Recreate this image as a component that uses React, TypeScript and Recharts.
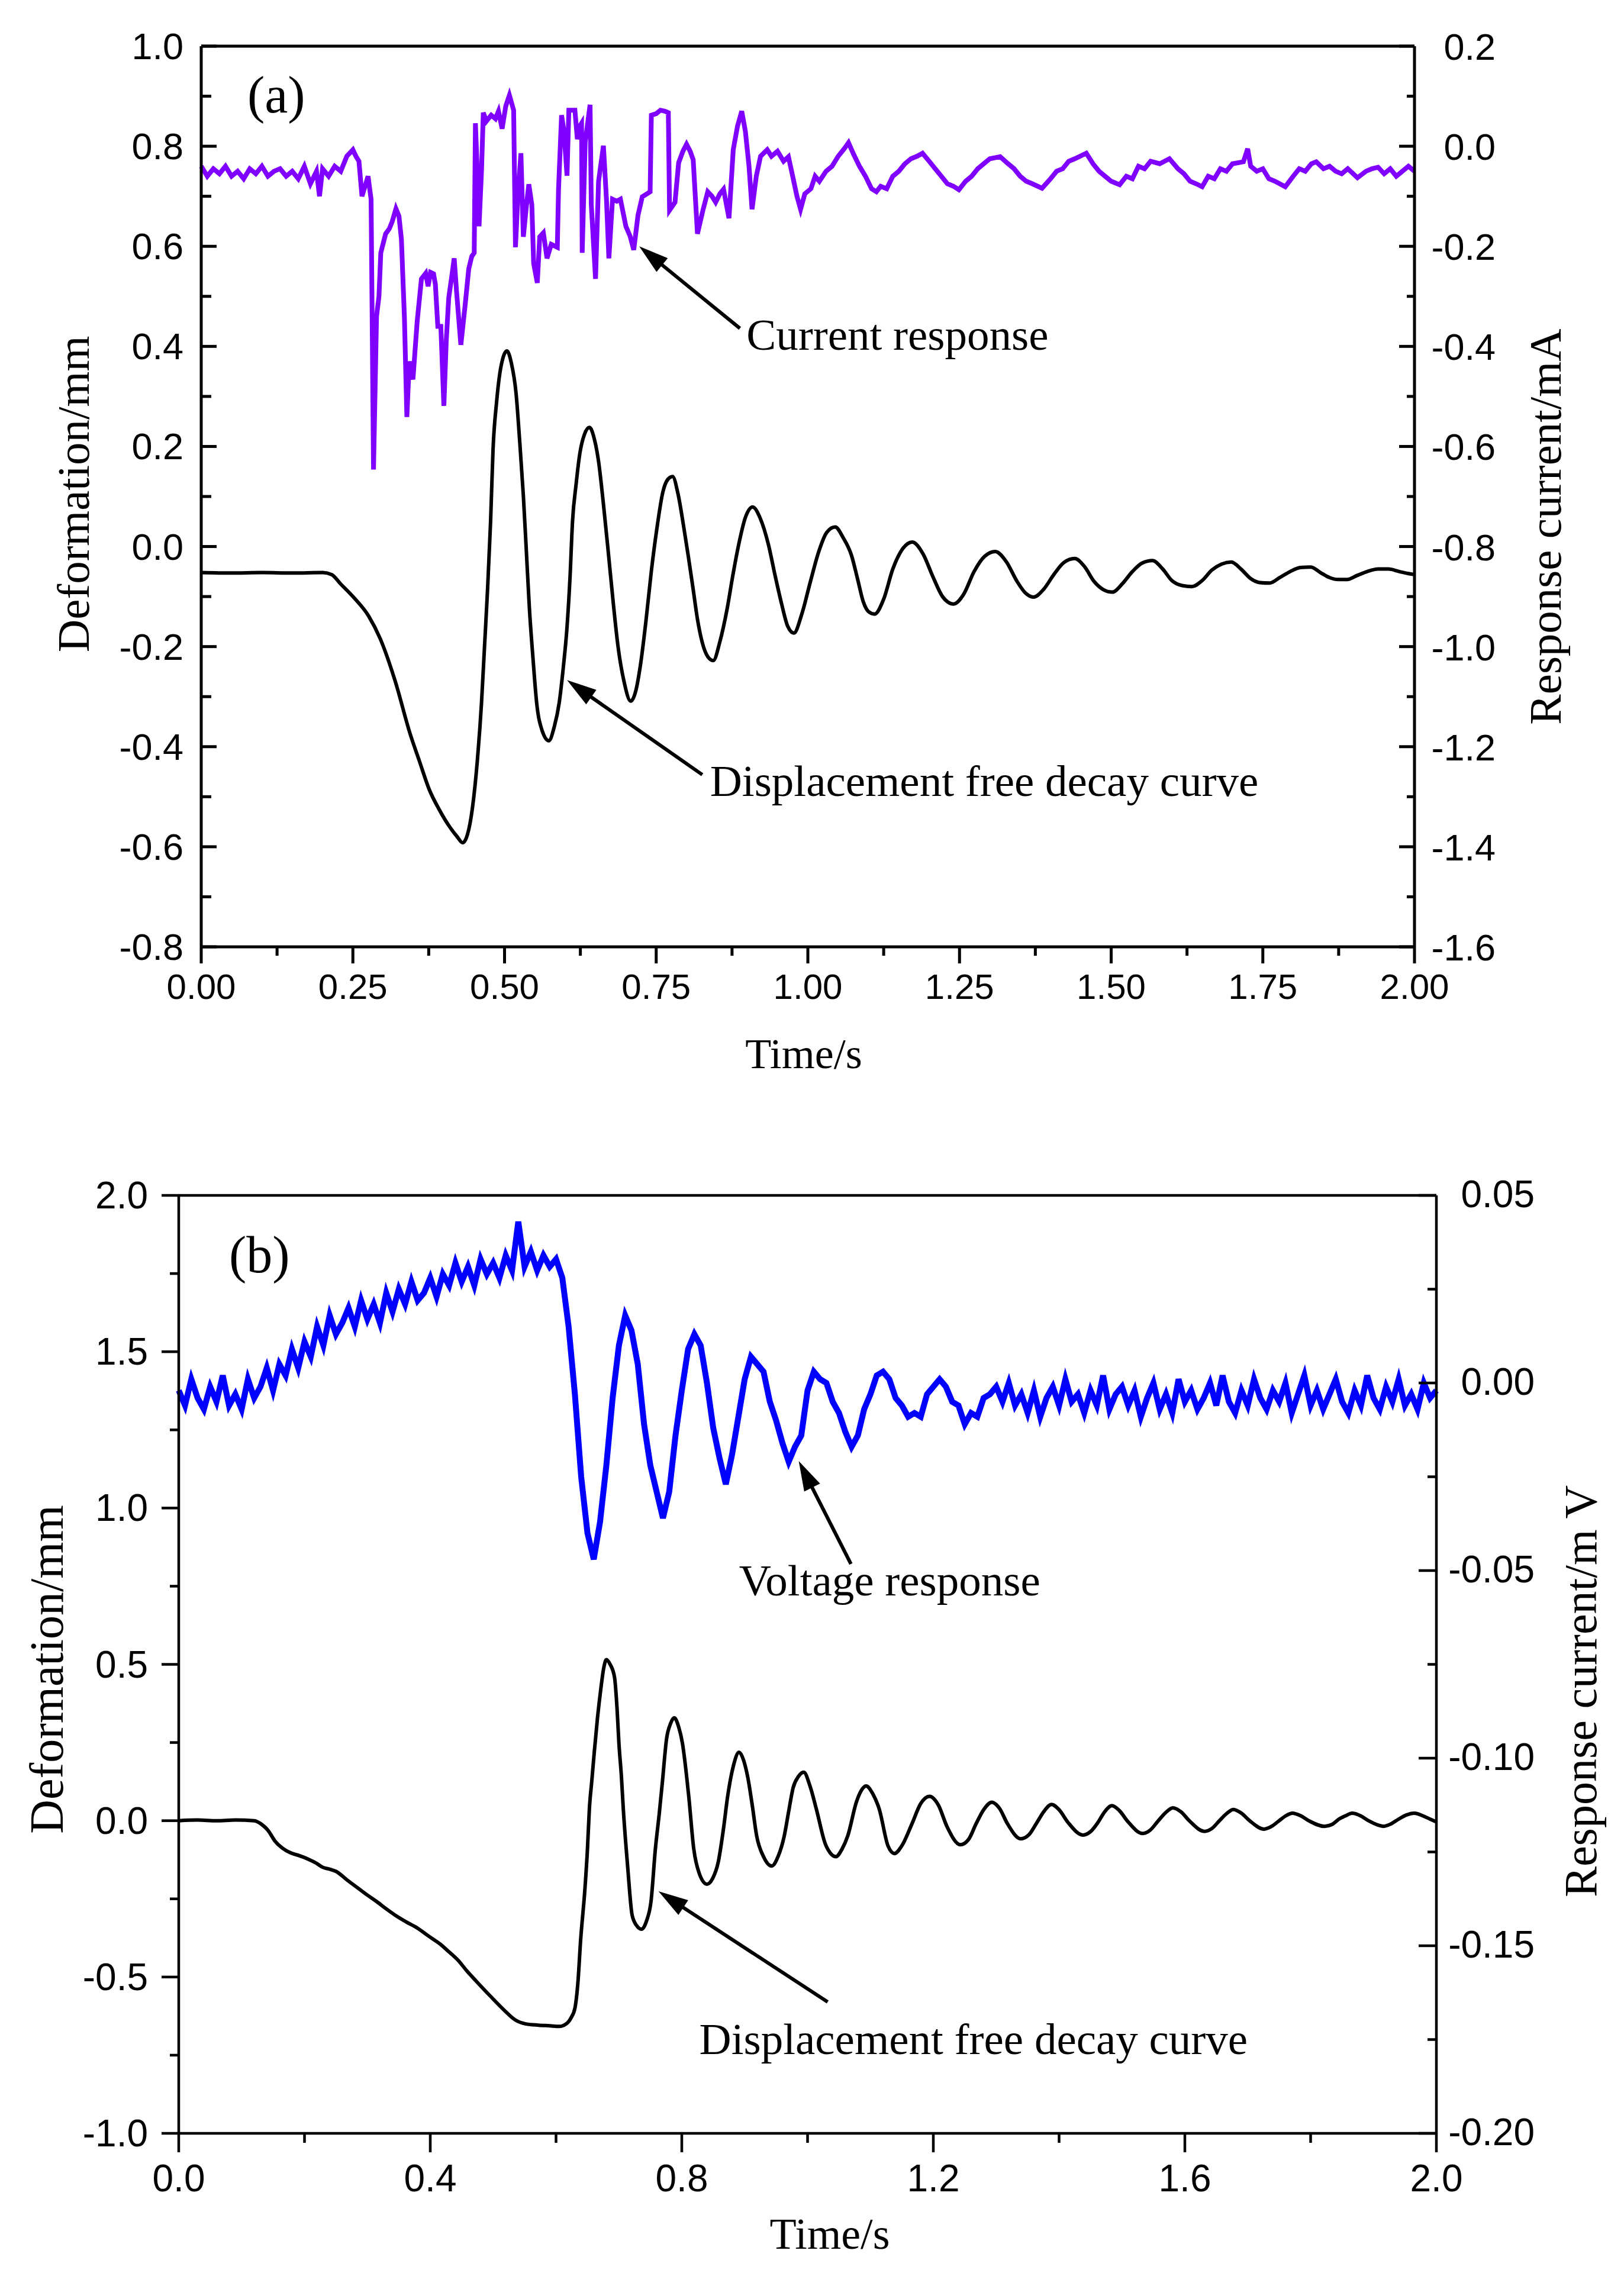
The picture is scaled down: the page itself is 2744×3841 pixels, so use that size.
import { Line, LineChart, ReferenceLine, XAxis, YAxis } from "recharts";

// ---------- panel (a) ----------
// displacement free decay curve, [time s, deformation mm]
const displacementA: [number, number][] = [
  [0.0, -0.052], [0.05, -0.053], [0.1, -0.052], [0.15, -0.053], [0.2, -0.052], [0.215, -0.056], [0.23, -0.075],
  [0.25, -0.1], [0.276, -0.139], [0.295, -0.184], [0.32, -0.27], [0.344, -0.373], [0.36, -0.43], [0.376, -0.486],
  [0.392, -0.525], [0.41, -0.561], [0.422, -0.58], [0.431, -0.592], [0.439, -0.575], [0.447, -0.523], [0.455, -0.43],
  [0.462, -0.313], [0.467, -0.2], [0.472, -0.086], [0.477, 0.05], [0.481, 0.193], [0.487, 0.29], [0.494, 0.359],
  [0.504, 0.391], [0.511, 0.368], [0.519, 0.306], [0.525, 0.21], [0.531, 0.102], [0.536, -0.01], [0.541, -0.124],
  [0.547, -0.225], [0.553, -0.313], [0.562, -0.368], [0.573, -0.388], [0.582, -0.36], [0.59, -0.313], [0.597, -0.24],
  [0.603, -0.161], [0.608, -0.06], [0.612, 0.049], [0.618, 0.125], [0.624, 0.185], [0.632, 0.225], [0.64, 0.238],
  [0.648, 0.215], [0.655, 0.17], [0.663, 0.085], [0.671, -0.011], [0.679, -0.11], [0.687, -0.199], [0.697, -0.27],
  [0.708, -0.309], [0.716, -0.29], [0.724, -0.237], [0.733, -0.15], [0.742, -0.049], [0.751, 0.035], [0.761, 0.109],
  [0.769, 0.134], [0.777, 0.14], [0.786, 0.105], [0.795, 0.042], [0.803, -0.02], [0.811, -0.086], [0.818, -0.145],
  [0.826, -0.192], [0.835, -0.22], [0.844, -0.228], [0.855, -0.19], [0.867, -0.124], [0.876, -0.06], [0.886, 0.004],
  [0.897, 0.058], [0.909, 0.079], [0.922, 0.055], [0.935, 0.004], [0.946, -0.058], [0.957, -0.116], [0.967, -0.16],
  [0.977, -0.173], [0.99, -0.135], [1.004, -0.071], [1.018, -0.01], [1.031, 0.028], [1.045, 0.039], [1.058, 0.018],
  [1.072, -0.018], [1.082, -0.065], [1.091, -0.109], [1.1, -0.13], [1.11, -0.135], [1.125, -0.105], [1.14, -0.045],
  [1.156, -0.005], [1.172, 0.009], [1.19, -0.015], [1.206, -0.06], [1.222, -0.1], [1.24, -0.115], [1.257, -0.095],
  [1.274, -0.05], [1.291, -0.02], [1.309, -0.01], [1.327, -0.03], [1.345, -0.07], [1.358, -0.092], [1.372, -0.101],
  [1.389, -0.085], [1.406, -0.055], [1.422, -0.032], [1.44, -0.024], [1.456, -0.04], [1.472, -0.07], [1.487, -0.086],
  [1.502, -0.091], [1.518, -0.075], [1.535, -0.05], [1.551, -0.033], [1.568, -0.028], [1.585, -0.045], [1.6, -0.068],
  [1.617, -0.078], [1.633, -0.08], [1.65, -0.068], [1.666, -0.047], [1.682, -0.035], [1.698, -0.031], [1.714, -0.045],
  [1.73, -0.064], [1.745, -0.072], [1.761, -0.073], [1.778, -0.062], [1.795, -0.05], [1.812, -0.042], [1.829, -0.041],
  [1.845, -0.052], [1.86, -0.062], [1.875, -0.066], [1.889, -0.066], [1.905, -0.058], [1.922, -0.05], [1.94, -0.045],
  [1.957, -0.045], [1.975, -0.05], [1.99, -0.054], [2.0, -0.056],
];

// current response, [time s, current mA]
const currentA: [number, number][] = [
  [0.0, -0.04], [0.01, -0.06], [0.02, -0.045], [0.03, -0.055], [0.04, -0.04], [0.05, -0.06], [0.06, -0.05],
  [0.07, -0.065], [0.08, -0.045], [0.09, -0.055], [0.1, -0.04], [0.11, -0.06], [0.12, -0.05], [0.13, -0.045],
  [0.14, -0.06], [0.15, -0.05], [0.16, -0.065], [0.17, -0.04], [0.18, -0.075], [0.19, -0.05], [0.195, -0.1],
  [0.2, -0.045], [0.21, -0.06], [0.22, -0.04], [0.23, -0.05], [0.24, -0.02], [0.25, -0.007], [0.255, -0.02],
  [0.26, -0.03], [0.265, -0.1], [0.275, -0.06], [0.28, -0.106], [0.284, -0.646], [0.289, -0.34], [0.293, -0.3],
  [0.296, -0.213], [0.304, -0.175], [0.31, -0.165], [0.315, -0.15], [0.321, -0.125], [0.326, -0.14], [0.33, -0.186],
  [0.335, -0.344], [0.339, -0.541], [0.343, -0.43], [0.349, -0.466], [0.356, -0.35], [0.363, -0.265], [0.37, -0.254],
  [0.374, -0.28], [0.378, -0.252], [0.383, -0.255], [0.386, -0.276], [0.39, -0.36], [0.395, -0.36], [0.4, -0.519],
  [0.404, -0.387], [0.408, -0.303], [0.413, -0.26], [0.417, -0.224], [0.421, -0.292], [0.428, -0.397], [0.435, -0.318],
  [0.441, -0.245], [0.446, -0.22], [0.45, -0.213], [0.452, 0.046], [0.455, -0.05], [0.458, -0.16], [0.462, -0.05],
  [0.465, 0.067], [0.47, 0.05], [0.478, 0.062], [0.485, 0.055], [0.49, 0.07], [0.496, 0.035], [0.502, 0.08],
  [0.508, 0.102], [0.515, 0.072], [0.518, -0.202], [0.522, -0.1], [0.527, -0.014], [0.531, -0.181], [0.536, -0.12],
  [0.54, -0.076], [0.545, -0.117], [0.548, -0.234], [0.554, -0.273], [0.558, -0.181], [0.564, -0.173], [0.57, -0.224],
  [0.577, -0.196], [0.587, -0.202], [0.589, -0.086], [0.594, 0.062], [0.598, 0.03], [0.603, -0.059], [0.606, 0.072],
  [0.616, 0.072], [0.62, 0.014], [0.624, 0.04], [0.627, 0.046], [0.628, -0.213], [0.633, 0.009], [0.641, 0.083],
  [0.643, -0.117], [0.65, -0.265], [0.655, -0.07], [0.663, 0.001], [0.668, -0.106], [0.672, -0.224], [0.678, -0.106],
  [0.685, -0.11], [0.691, -0.106], [0.7, -0.16], [0.707, -0.18], [0.713, -0.207], [0.72, -0.138], [0.727, -0.101],
  [0.735, -0.095], [0.74, -0.091], [0.742, 0.062], [0.75, 0.065], [0.757, 0.072], [0.764, 0.07], [0.77, 0.067],
  [0.772, -0.128], [0.781, -0.112], [0.787, -0.033], [0.794, -0.01], [0.8, 0.004], [0.806, -0.01], [0.811, -0.027],
  [0.818, -0.175], [0.827, -0.128], [0.835, -0.091], [0.842, -0.1], [0.848, -0.112], [0.855, -0.095], [0.861, -0.086],
  [0.87, -0.144], [0.877, -0.007], [0.884, 0.04], [0.891, 0.07], [0.897, 0.03], [0.903, -0.04], [0.908, -0.126],
  [0.915, -0.06], [0.922, -0.02], [0.933, -0.007], [0.94, -0.02], [0.95, -0.01], [0.96, -0.03], [0.968, -0.021],
  [0.975, -0.06], [0.982, -0.1], [0.988, -0.126], [0.995, -0.095], [1.005, -0.085], [1.012, -0.06], [1.019, -0.07],
  [1.03, -0.05], [1.04, -0.04], [1.05, -0.02], [1.06, -0.005], [1.067, 0.007], [1.075, -0.015], [1.085, -0.04],
  [1.095, -0.06], [1.105, -0.085], [1.113, -0.091], [1.12, -0.08], [1.13, -0.085], [1.14, -0.06], [1.15, -0.05],
  [1.16, -0.035], [1.17, -0.025], [1.18, -0.02], [1.189, -0.014], [1.2, -0.03], [1.21, -0.045], [1.22, -0.06],
  [1.23, -0.075], [1.24, -0.08], [1.249, -0.087], [1.26, -0.07], [1.27, -0.06], [1.28, -0.045], [1.29, -0.035],
  [1.3, -0.025], [1.317, -0.021], [1.33, -0.035], [1.34, -0.045], [1.35, -0.06], [1.36, -0.07], [1.37, -0.075],
  [1.386, -0.084], [1.4, -0.065], [1.41, -0.05], [1.42, -0.045], [1.43, -0.03], [1.44, -0.025], [1.459, -0.014],
  [1.47, -0.035], [1.48, -0.05], [1.49, -0.06], [1.5, -0.07], [1.514, -0.077], [1.525, -0.06], [1.535, -0.065],
  [1.545, -0.04], [1.555, -0.045], [1.565, -0.03], [1.58, -0.035], [1.596, -0.025], [1.61, -0.045], [1.62, -0.055],
  [1.63, -0.07], [1.64, -0.075], [1.65, -0.081], [1.66, -0.06], [1.67, -0.065], [1.68, -0.045], [1.69, -0.05],
  [1.7, -0.035], [1.718, -0.031], [1.725, -0.005], [1.73, -0.04], [1.74, -0.05], [1.75, -0.045], [1.76, -0.065],
  [1.77, -0.07], [1.787, -0.081], [1.8, -0.06], [1.81, -0.045], [1.82, -0.05], [1.83, -0.035], [1.838, -0.031],
  [1.85, -0.045], [1.86, -0.04], [1.87, -0.05], [1.88, -0.055], [1.89, -0.045], [1.906, -0.063], [1.92, -0.05],
  [1.93, -0.045], [1.94, -0.042], [1.95, -0.055], [1.96, -0.045], [1.97, -0.06], [1.98, -0.05], [1.99, -0.04],
  [2.0, -0.05],
];

const deformTicksA = [-0.8, -0.6, -0.4, -0.2, 0, 0.2, 0.4, 0.6, 0.8, 1.0];
const deformMinorA = [-0.7, -0.5, -0.3, -0.1, 0.1, 0.3, 0.5, 0.7, 0.9];
const currentTicksA = [-1.6, -1.4, -1.2, -1.0, -0.8, -0.6, -0.4, -0.2, 0, 0.2];
const currentMinorA = [-1.5, -1.3, -1.1, -0.9, -0.7, -0.5, -0.3, -0.1, 0.1];
const timeTicksA = [0, 0.25, 0.5, 0.75, 1.0, 1.25, 1.5, 1.75, 2.0];
const timeMinorA = [0.125, 0.375, 0.625, 0.875, 1.125, 1.375, 1.625, 1.875];

// ---------- panel (b) ----------
// displacement free decay curve, [time s, deformation mm]
const displacementB: [number, number][] = [
  [0.0, 0.0], [0.03, 0.002], [0.06, 0.0], [0.09, 0.002], [0.12, 0.0], [0.132, -0.012], [0.142, -0.031],
  [0.153, -0.065], [0.165, -0.088], [0.178, -0.103], [0.192, -0.112], [0.207, -0.124], [0.218, -0.135],
  [0.229, -0.149], [0.24, -0.155], [0.25, -0.162], [0.268, -0.19], [0.286, -0.217], [0.3, -0.238], [0.315, -0.259],
  [0.33, -0.282], [0.344, -0.302], [0.362, -0.324], [0.38, -0.344], [0.398, -0.37], [0.416, -0.395], [0.43, -0.42],
  [0.444, -0.446], [0.458, -0.48], [0.473, -0.513], [0.495, -0.56], [0.517, -0.605], [0.535, -0.637], [0.552, -0.65],
  [0.572, -0.654], [0.59, -0.656], [0.605, -0.658], [0.616, -0.65], [0.624, -0.63], [0.63, -0.6], [0.635, -0.512],
  [0.639, -0.385], [0.646, -0.217], [0.65, -0.09], [0.653, 0.037], [0.657, 0.13], [0.661, 0.223], [0.666, 0.33],
  [0.671, 0.418], [0.676, 0.49], [0.68, 0.515], [0.686, 0.5], [0.693, 0.459], [0.697, 0.36], [0.7, 0.248],
  [0.704, 0.14], [0.707, 0.037], [0.714, -0.149], [0.721, -0.302], [0.728, -0.335], [0.736, -0.347], [0.744, -0.32],
  [0.751, -0.259], [0.758, -0.09], [0.764, 0.02], [0.769, 0.121], [0.776, 0.265], [0.782, 0.31], [0.788, 0.329],
  [0.795, 0.3], [0.801, 0.248], [0.811, 0.079], [0.819, -0.09], [0.828, -0.17], [0.84, -0.203], [0.849, -0.185],
  [0.858, -0.132], [0.866, -0.03], [0.873, 0.079], [0.882, 0.175], [0.891, 0.219], [0.898, 0.195], [0.905, 0.138],
  [0.912, 0.05], [0.919, -0.048], [0.93, -0.115], [0.943, -0.145], [0.953, -0.115], [0.963, -0.048], [0.97, 0.03],
  [0.977, 0.105], [0.985, 0.14], [0.994, 0.155], [1.004, 0.11], [1.014, 0.037], [1.028, -0.073], [1.036, -0.103],
  [1.045, -0.115], [1.055, -0.09], [1.064, -0.048], [1.078, 0.062], [1.085, 0.095], [1.093, 0.111], [1.104, 0.085],
  [1.114, 0.037], [1.128, -0.081], [1.138, -0.105], [1.15, -0.08], [1.166, -0.01], [1.18, 0.055], [1.194, 0.078],
  [1.208, 0.05], [1.222, -0.02], [1.243, -0.077], [1.256, -0.06], [1.268, -0.01], [1.28, 0.035], [1.293, 0.059],
  [1.305, 0.04], [1.318, -0.01], [1.339, -0.058], [1.352, -0.045], [1.365, -0.005], [1.376, 0.03], [1.388, 0.052],
  [1.4, 0.035], [1.414, -0.005], [1.438, -0.046], [1.45, -0.035], [1.462, -0.005], [1.473, 0.03], [1.484, 0.048],
  [1.496, 0.032], [1.509, -0.002], [1.533, -0.041], [1.545, -0.03], [1.557, -0.002], [1.569, 0.025], [1.581, 0.041],
  [1.594, 0.028], [1.607, 0.0], [1.631, -0.034], [1.643, -0.025], [1.655, 0.0], [1.666, 0.022], [1.677, 0.036],
  [1.69, 0.024], [1.703, 0.0], [1.726, -0.027], [1.738, -0.018], [1.75, 0.0], [1.76, 0.015], [1.771, 0.024],
  [1.784, 0.016], [1.797, 0.0], [1.822, -0.018], [1.834, -0.012], [1.845, 0.005], [1.856, 0.016], [1.866, 0.024],
  [1.879, 0.016], [1.892, 0.0], [1.916, -0.018], [1.928, -0.01], [1.94, 0.005], [1.952, 0.018], [1.965, 0.024],
  [1.978, 0.016], [1.99, 0.005], [2.0, -0.004],
];

// voltage response in mV, one reading every 0.01 s from 0.00 s to 2.00 s
const VOLTAGE_STEP_MS = 10;
const voltageB: number[] = [
  -0.002, -0.006, 0.001, -0.004, -0.007, -0.001, -0.005, 0.002, -0.006, -0.003,
  -0.007, 0.001, -0.004, -0.001, 0.004, -0.002, 0.005, 0.002, 0.009, 0.004,
  0.011, 0.007, 0.015, 0.01, 0.018, 0.013, 0.016, 0.02, 0.015, 0.022,
  0.017, 0.021, 0.016, 0.024, 0.019, 0.025, 0.021, 0.027, 0.022, 0.024,
  0.028, 0.023, 0.029, 0.026, 0.032, 0.027, 0.031, 0.026, 0.033, 0.029,
  0.032, 0.028, 0.034, 0.03, 0.043, 0.031, 0.035, 0.03, 0.034, 0.031,
  0.033, 0.028, 0.015, -0.003, -0.025, -0.04, -0.047, -0.037, -0.022, -0.004,
  0.01, 0.018, 0.014, 0.005, -0.011, -0.022, -0.029, -0.036, -0.029, -0.014,
  -0.002, 0.009, 0.013, 0.01, 0.0, -0.012, -0.02, -0.027, -0.019, -0.009,
  0.001, 0.007, 0.005, 0.003, -0.005, -0.01, -0.016, -0.021, -0.017, -0.014,
  -0.002, 0.003, 0.001, 0.0, -0.005, -0.008, -0.013, -0.017, -0.014, -0.007,
  -0.003, 0.002, 0.003, 0.001, -0.004, -0.006, -0.009, -0.008, -0.009, -0.003,
  -0.001, 0.001, -0.001, -0.005, -0.006, -0.011, -0.008, -0.009, -0.004, -0.003,
  -0.001, -0.005, 0.0, -0.006, -0.003, -0.008, -0.002, -0.009, -0.004, -0.001,
  -0.006, 0.001, -0.005, -0.003, -0.008, -0.002, -0.006, 0.002, -0.007, -0.003,
  -0.001, -0.006, -0.002, -0.009, -0.004, 0.0, -0.007, -0.003, -0.008, 0.001,
  -0.005, -0.002, -0.007, -0.004, 0.0, -0.006, 0.002, -0.005, -0.008, -0.002,
  -0.006, 0.001, -0.004, -0.007, -0.002, -0.005, 0.0, -0.008, -0.003, 0.002,
  -0.006, -0.002, -0.007, -0.003, 0.001, -0.005, -0.008, -0.002, -0.006, 0.002,
  -0.004, -0.007, -0.001, -0.005, 0.001, -0.006, -0.003, -0.007, 0.0, -0.004,
  -0.002,
];

const deformTicksB = [-1.0, -0.5, 0, 0.5, 1.0, 1.5, 2.0];
const deformMinorB = [-0.75, -0.25, 0.25, 0.75, 1.25, 1.75];
const voltageTicksB = [-0.2, -0.15, -0.1, -0.05, 0, 0.05];
const voltageMinorB = [-0.175, -0.125, -0.075, -0.025, 0.025];
const timeTicksB = [0, 0.4, 0.8, 1.2, 1.6, 2.0];
const timeMinorB = [0.2, 0.6, 1.0, 1.4, 1.8];

const SANS = '"Liberation Sans", Arial, sans-serif';
const SERIF = '"Liberation Serif", "Times New Roman", serif';

const toRows = (pts: [number, number][]) => pts.map(([t, v]) => ({ t, v }));
const merge = (a: number[], b: number[]) => [...a, ...b].sort((p, q) => p - q);

type TickStyle = {
  side: "left" | "right" | "bottom";
  majors: number[];
  digits: number;
  inward: boolean;
  major: number;
  minor: number;
  width: number;
  fontSize: number;
  dx: number;
  dy: number;
};

function makeTick(s: TickStyle) {
  return (props: any) => {
    const { x, y, payload } = props;
    const value: number = payload.value;
    const isMajor = s.majors.some((m) => Math.abs(m - value) < 1e-9);
    const len = isMajor ? s.major : s.minor;
    let line;
    if (s.side === "bottom") {
      const d = s.inward ? -len : len;
      line = <line x1={x} y1={y} x2={x} y2={y + d} stroke="#000" strokeWidth={s.width} />;
    } else {
      const dir = s.side === "left" ? 1 : -1;
      const d = (s.inward ? 1 : -1) * dir * len;
      line = <line x1={x} y1={y} x2={x + d} y2={y} stroke="#000" strokeWidth={s.width} />;
    }
    const label = value.toFixed(s.digits);
    return (
      <g>
        {line}
        {isMajor && (
          <text
            x={x + s.dx}
            y={y + s.dy}
            textAnchor={s.side === "bottom" ? "middle" : "end"}
            fontFamily={SANS}
            fontSize={s.fontSize}
            fill="#000"
          >
            {label}
          </text>
        )}
      </g>
    );
  };
}

function arrowShape(text: string, dx: number, dy: number) {
  return (p: any) => {
    const { x1, y1, x2, y2 } = p;
    const ang = Math.atan2(y2 - y1, x2 - x1);
    const c = Math.cos(ang);
    const s = Math.sin(ang);
    const L = 50;
    const W = 15;
    const bx = x2 - L * c;
    const by = y2 - L * s;
    const pts = `${x2},${y2} ${bx - W * s},${by + W * c} ${bx + W * s},${by - W * c}`;
    return (
      <g>
        <line x1={x1} y1={y1} x2={bx + 4 * c} y2={by + 4 * s} stroke="#000" strokeWidth={6} />
        <polygon points={pts} fill="#000" />
        <text x={x1 + dx} y={y1 + dy} fontFamily={SERIF} fontSize={75} fill="#000">
          {text}
        </text>
      </g>
    );
  };
}

const axisLineA = { stroke: "#000", strokeWidth: 5 };
const axisLineB = { stroke: "#000", strokeWidth: 4.5 };

function PanelA() {
  return (
    <LineChart width={2744} height={1900} margin={{ top: 78, right: 0, bottom: 0, left: 0 }}>
      <XAxis
        dataKey="t"
        type="number"
        domain={[0, 2]}
        ticks={merge(timeTicksA, timeMinorA)}
        interval={0}
        tickSize={0}
        tickMargin={0}
        tickLine={false}
        axisLine={axisLineA}
        height={300}
        tick={makeTick({ side: "bottom", majors: timeTicksA, digits: 2, inward: false, major: 28, minor: 15, width: 5, fontSize: 60, dx: 0, dy: 88 })}
      />
      <YAxis
        yAxisId="left"
        type="number"
        domain={[-0.8, 1.0]}
        ticks={merge(deformTicksA, deformMinorA)}
        interval={0}
        tickSize={0}
        tickMargin={0}
        tickLine={false}
        axisLine={axisLineA}
        width={340}
        tick={makeTick({ side: "left", majors: deformTicksA, digits: 1, inward: true, major: 26, minor: 17, width: 5, fontSize: 63, dx: -30, dy: 22 })}
      />
      <YAxis
        yAxisId="right"
        orientation="right"
        type="number"
        domain={[-1.6, 0.2]}
        ticks={merge(currentTicksA, currentMinorA)}
        interval={0}
        tickSize={0}
        tickMargin={0}
        tickLine={false}
        axisLine={axisLineA}
        width={354}
        tick={makeTick({ side: "right", majors: currentTicksA, digits: 1, inward: true, major: 26, minor: 13, width: 5, fontSize: 63, dx: 137, dy: 23 })}
      />
      <ReferenceLine yAxisId="left" y={1.0} stroke="#000" strokeWidth={5} ifOverflow="visible" />
      <Line
        yAxisId="right"
        data={toRows(currentA)}
        dataKey="v"
        type="linear"
        stroke="#7f00ff"
        strokeWidth={8}
        strokeLinejoin="miter"
        dot={false}
        isAnimationActive={false}
      />
      <Line
        yAxisId="left"
        data={toRows(displacementA)}
        dataKey="v"
        type="monotone"
        stroke="#000"
        strokeWidth={6}
        dot={false}
        isAnimationActive={false}
      />
      <ReferenceLine
        yAxisId="left"
        segment={[{ x: 0.888, y: 0.436 }, { x: 0.722, y: 0.6 }]}
        ifOverflow="visible"
        shape={arrowShape("Current response", 11, 36)}
      />
      <ReferenceLine
        yAxisId="left"
        segment={[{ x: 0.826, y: -0.456 }, { x: 0.603, y: -0.267 }]}
        ifOverflow="visible"
        shape={arrowShape("Displacement free decay curve", 13, 36)}
      />
    </LineChart>
  );
}

function PanelB() {
  const voltageRows = voltageB.map((v, i) => ({ t: (i * VOLTAGE_STEP_MS) / 1000, v }));
  return (
    <LineChart width={2744} height={1941} margin={{ top: 120, right: 0, bottom: 0, left: 0 }}>
      <XAxis
        dataKey="t"
        type="number"
        domain={[0, 2]}
        ticks={merge(timeTicksB, timeMinorB)}
        interval={0}
        tickSize={0}
        tickMargin={0}
        tickLine={false}
        axisLine={axisLineB}
        height={236}
        tick={makeTick({ side: "bottom", majors: timeTicksB, digits: 1, inward: false, major: 32, minor: 16, width: 4.5, fontSize: 64, dx: 0, dy: 98 })}
      />
      <YAxis
        yAxisId="left"
        type="number"
        domain={[-1.0, 2.0]}
        ticks={merge(deformTicksB, deformMinorB)}
        interval={0}
        tickSize={0}
        tickMargin={0}
        tickLine={false}
        axisLine={axisLineB}
        width={302}
        tick={makeTick({ side: "left", majors: deformTicksB, digits: 1, inward: false, major: 29, minor: 15, width: 4.5, fontSize: 64, dx: -52, dy: 22 })}
      />
      <YAxis
        yAxisId="right"
        orientation="right"
        type="number"
        domain={[-0.2, 0.05]}
        ticks={merge(voltageTicksB, voltageMinorB)}
        interval={0}
        tickSize={0}
        tickMargin={0}
        tickLine={false}
        axisLine={axisLineB}
        width={317}
        tick={makeTick({ side: "right", majors: voltageTicksB, digits: 2, inward: true, major: 30, minor: 15, width: 4.5, fontSize: 64, dx: 166, dy: 20 })}
      />
      <ReferenceLine yAxisId="left" y={2.0} stroke="#000" strokeWidth={4.5} ifOverflow="visible" />
      <Line
        yAxisId="right"
        data={voltageRows}
        dataKey="v"
        type="linear"
        stroke="#0000ff"
        strokeWidth={10}
        strokeLinejoin="miter"
        dot={false}
        isAnimationActive={false}
      />
      <Line
        yAxisId="left"
        data={toRows(displacementB)}
        dataKey="v"
        type="monotone"
        stroke="#000"
        strokeWidth={6}
        dot={false}
        isAnimationActive={false}
      />
      <ReferenceLine
        yAxisId="left"
        segment={[{ x: 1.069, y: 0.821 }, { x: 0.986, y: 1.15 }]}
        ifOverflow="visible"
        shape={arrowShape("Voltage response", -189, 53)}
      />
      <ReferenceLine
        yAxisId="left"
        segment={[{ x: 1.032, y: -0.58 }, { x: 0.763, y: -0.226 }]}
        ifOverflow="visible"
        shape={arrowShape("Displacement free decay curve", -217, 88)}
      />
    </LineChart>
  );
}

function Titles() {
  const serif = { fontFamily: SERIF, fill: "#000" };
  return (
    <svg
      width={2744}
      height={3841}
      style={{ position: "absolute", left: 0, top: 0, pointerEvents: "none" }}
    >
      <text x={418} y={190} fontSize={88} {...serif}>(a)</text>
      <text x={387} y={2150} fontSize={88} {...serif}>(b)</text>
      <text x={1358} y={1805} fontSize={72} textAnchor="middle" {...serif}>Time/s</text>
      <text x={1402} y={3800} fontSize={74} textAnchor="middle" {...serif}>Time/s</text>
      <text transform="translate(150,835) rotate(-90)" fontSize={77} textAnchor="middle" {...serif}>
        Deformation/mm
      </text>
      <text transform="translate(2637,890) rotate(-90)" fontSize={77} textAnchor="middle" {...serif}>
        Response current/mA
      </text>
      <text transform="translate(106,2821) rotate(-90)" fontSize={80} textAnchor="middle" {...serif}>
        Deformation/mm
      </text>
      <text transform="translate(2697,2858) rotate(-90)" fontSize={78} textAnchor="middle" {...serif}>
        Response current/m V
      </text>
    </svg>
  );
}

export default function App() {
  return (
    <div style={{ position: "absolute", left: 0, top: 0, width: 2744, height: 3841, background: "#fff" }}>
      <div style={{ position: "absolute", left: 0, top: 0 }}>
        <PanelA />
      </div>
      <div style={{ position: "absolute", left: 0, top: 1900 }}>
        <PanelB />
      </div>
      <Titles />
    </div>
  );
}
